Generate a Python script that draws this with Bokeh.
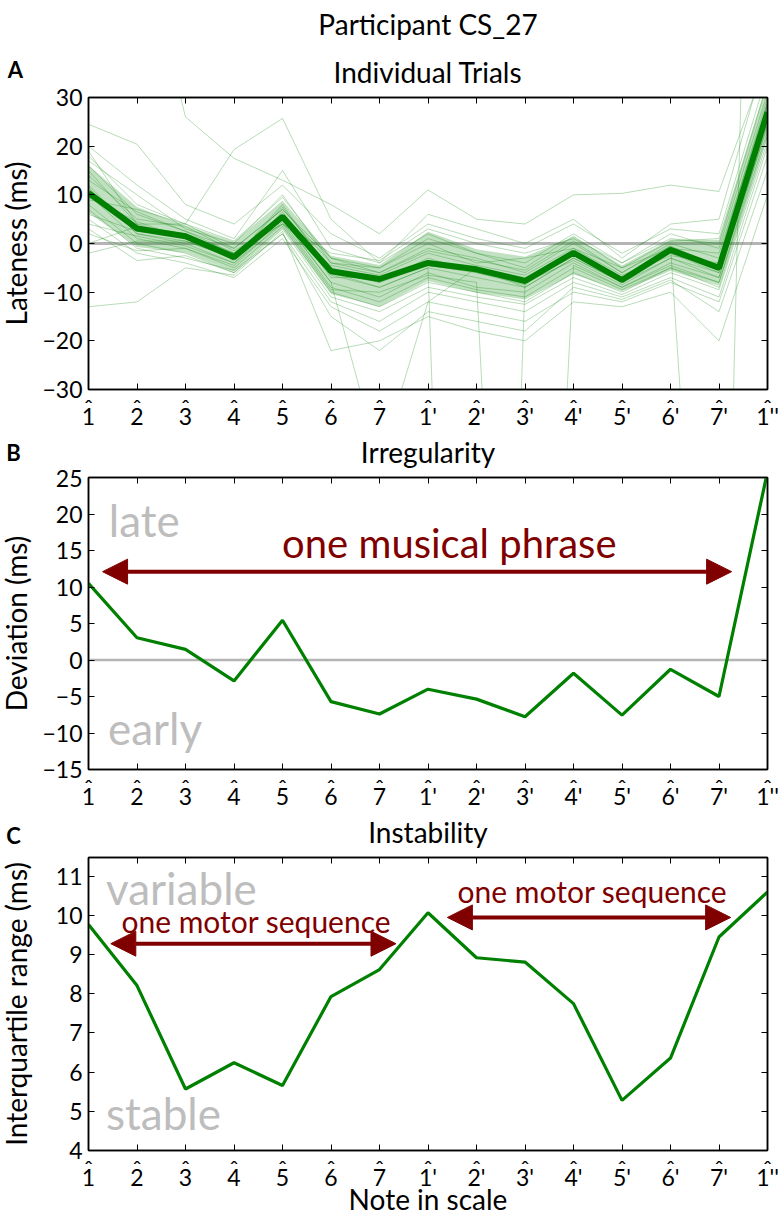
import math
from bokeh.plotting import figure
from bokeh.models import (Range1d, FixedTicker, LinearAxis, Span, Arrow, NormalHead,
                          Label, CustomJSTickFormatter)
from bokeh.layouts import column, row
from bokeh.embed import file_html
from bokeh.resources import INLINE
from bokeh.core.properties import value

# ---------------- data ----------------
notes = ["1", "2", "3", "4", "5", "6", "7", "1'", "2'", "3'", "4'", "5'", "6'", "7'", "1''"]
hat = "\u02c6"

median_lateness = [10.4, 3.1, 1.5, -2.8, 5.5, -5.7, -7.3, -4.0, -5.3, -7.7, -1.9, -7.5, -1.3, -5.0, 27.0]
lower_quartile = [6.3, -0.7, -1.9, -5.8, 3.1, -10.4, -13.0, -7.7, -10.1, -11.5, -6.3, -9.8, -5.6, -8.7, 22.0]
upper_quartile = [16.1, 7.5, 3.7, 0.4, 8.8, -2.5, -4.4, 2.4, -1.2, -2.7, 1.4, -4.5, 0.8, 0.7, 32.6]
deviation = [10.5, 3.05, 1.45, -2.86, 5.45, -5.7, -7.4, -4.0, -5.36, -7.77, -1.82, -7.55, -1.27, -5.0, 25.8]
interquartile_range = [9.77, 8.21, 5.57, 6.24, 5.66, 7.93, 8.62, 10.07, 8.92, 8.81, 7.75, 5.28, 6.36, 9.45, 10.6]

trials = [
    [24.5, 20.4, 8.0, 4.0, 12.0, 2.0, -3.0, 4.0, 1.0, -1.0, 4.0, -2.0, 3.0, 2.0, 35.0],
    [20.0, 12.0, 5.0, 1.0, 15.0, -1.0, -4.0, 2.0, -2.0, -4.0, 2.0, -4.0, 1.0, 0.0, 33.0],
    [18.0, 8.0, 4.0, -1.0, 7.0, -3.0, -6.0, -1.0, -3.0, -6.0, 0.0, -6.0, 0.0, -3.0, 30.0],
    [17.0, 10.0, 3.0, 0.0, 10.0, -4.0, -5.0, 0.0, -4.0, -3.0, -1.0, -5.0, -1.0, -2.0, 29.0],
    [16.0, 6.0, 2.5, -2.0, 6.0, -5.0, -8.0, -3.0, -6.0, -8.0, -2.0, -7.0, -2.0, -5.0, 28.0],
    [15.0, 4.0, 1.0, -3.0, 8.0, -6.0, -9.0, -5.0, -7.0, -9.0, -3.0, -8.0, -3.0, -6.0, 27.0],
    [14.0, 5.0, 3.5, -1.5, 4.0, -2.0, -3.5, 3.0, 0.0, -2.0, 1.0, -4.0, 2.0, -1.0, 31.0],
    [12.0, 2.0, 0.0, -4.0, 5.0, -8.0, -11.0, -6.0, -9.0, -10.0, -4.0, -9.0, -4.0, -7.0, 25.0],
    [11.0, 3.0, 2.0, -3.5, 6.5, -7.0, -7.0, -4.0, -5.0, -7.0, -2.5, -7.5, -1.5, -4.5, 26.0],
    [10.0, 1.0, -1.0, -5.0, 3.5, -10.0, -13.0, -8.0, -10.0, -12.0, -6.0, -10.0, -5.0, -9.0, 22.0],
    [9.0, 7.0, 4.0, 0.5, 9.5, -3.0, -5.0, 1.0, -2.0, -5.0, 1.5, -5.0, 0.5, 1.0, 33.0],
    [8.0, 0.0, -2.0, -6.0, 3.0, -11.0, -14.0, -9.0, -11.0, -12.5, -7.0, -10.5, -6.0, -9.5, 21.0],
    [7.0, -1.0, -3.0, -5.5, 2.0, -12.0, -16.0, -10.0, -12.0, -14.0, -8.0, -11.0, -7.0, -11.0, 20.0],
    [6.0, 2.5, 1.5, -2.5, 5.5, -6.0, -8.0, -4.5, -6.0, -8.5, -2.0, -8.0, -1.0, -5.5, 27.5],
    [5.0, -2.0, -4.0, -7.0, 1.0, -13.0, -18.0, -12.0, -14.0, -16.0, -10.0, -12.0, -8.0, -12.0, 18.0],
    [2.0, -1.5, -1.0, -4.5, 4.5, -9.0, -12.0, -7.0, -9.5, -11.0, -5.0, -9.5, -5.0, -8.0, 23.0],
    [0.0, 3.5, 2.0, -2.0, 4.0, -4.5, -6.5, -2.0, -4.5, -6.5, -1.0, -6.5, -2.5, -4.0, 28.5],
    [-2.0, 0.5, 0.5, -3.0, 7.5, -5.5, -7.5, -3.5, -5.5, -7.5, -1.5, -7.0, -0.5, -5.0, 26.5],
    [-13.0, -12.0, -5.0, -6.5, 2.5, -22.0, -20.0, -15.0, -18.0, -20.0, -12.0, -13.0, -10.0, -20.0, 10.0],
    [45.0, 66.0, 26.0, 17.5, 13.0, 8.0, 2.0, 11.0, 5.0, 4.0, 10.0, 10.3, 12.0, 10.7, 38.0],
    [19.0, 4.0, 4.0, 19.3, 25.7, 5.0, -4.0, 6.0, 3.0, 0.0, 5.0, -3.0, 4.0, 5.0, 40.0],
    [11.5, 2.0, 0.5, -3.0, 5.0, -8.0, -45.0, -12.0, -5.0, -9.0, -3.0, -8.0, -2.0, -6.0, 24.0],
    [9.5, 4.5, 1.0, -2.0, 6.0, -6.5, -9.0, -5.0, -300.0, -8.0, -3.5, -8.5, -3.0, -7.0, 29.0],
    [4.0, 1.5, -0.5, -4.0, 4.0, -9.5, -10.0, -6.5, -8.0, -200.0, -4.5, -9.0, -4.5, -8.0, 24.5],
    [13.0, 6.5, 2.5, -1.0, 7.0, -4.0, -6.0, -1.5, -3.5, -5.5, 0.5, -6.0, -0.5, -150.0, 250.0],
    [3.0, -3.5, -2.5, -6.0, 2.0, -15.0, -22.0, -14.0, -16.0, -18.0, -9.0, -11.5, -7.5, -14.0, 15.0],
]

yticks_a = [-30, -20, -10, 0, 10, 20, 30]
yticks_b = [-15, -10, -5, 0, 5, 10, 15, 20, 25]
yticks_c = [4, 5, 6, 7, 8, 9, 10, 11]

panel_letters = ["A", "B", "C"]
y_titles = ["Lateness (ms)", "Deviation (ms)", "Interquartile range (ms)"]
main_title = "Participant CS_27"
subtitles = ["Individual Trials", "Irregularity", "Instability"]
x_title = "Note in scale"

# ---------------- style / layout constants ----------------
FONT = "Lato"
GREEN = "#008000"
DARKRED = "#800000"
LIGHTGRAY = "#bdbdbd"
ZEROGRAY = "#b5b5b5"
x = list(range(len(notes)))
PAGE_H = 1214
STRIP_W = 38
FRAME_L, FRAME_R = 88, 767
CENTER_X = (FRAME_L + FRAME_R) / 2.0
BOT_B = 48
GLYPH_K = 0.41   # baseline correction for text glyphs (fraction of font size)
LABEL_K = 0.32   # baseline correction for Label annotations


def fmt(t):
    return str(t) if t >= 0 else "\u2212" + str(-t)


def text_box(top, bottom, texts, baselines, fs=28):
    h = figure(frame_width=FRAME_R - FRAME_L, frame_height=bottom - top,
               x_range=Range1d(FRAME_L, FRAME_R), y_range=Range1d(bottom, top),
               output_backend="svg", toolbar_location=None,
               x_axis_location=None, y_axis_location=None, min_border=0,
               min_border_left=FRAME_L - STRIP_W, min_border_right=784 - FRAME_R,
               outline_line_color=None)
    h.grid.visible = False
    h.text(x=[CENTER_X] * len(texts), y=[b - GLYPH_K * fs for b in baselines], text=texts,
           text_font=value(FONT), text_font_size=f"{fs}px", text_align="center",
           text_baseline="alphabetic", text_color="black")
    return h


def note_label(p, xv, yv, text, color, fs, align="left"):
    p.add_layout(Label(x=xv, y=yv, text=text, text_color=color, text_font=FONT,
                       text_font_size=f"{fs}px", text_align=align,
                       text_baseline="alphabetic", y_offset=round(LABEL_K * fs)))


def make_panel(y_lo, y_hi, yticks, frame_h, top_border):
    p = figure(frame_width=FRAME_R - FRAME_L, frame_height=frame_h,
               x_range=Range1d(0, 14), y_range=Range1d(y_lo, y_hi),
               output_backend="svg", toolbar_location=None,
               min_border_left=FRAME_L - STRIP_W, min_border_right=784 - FRAME_R,
               min_border_top=top_border, min_border_bottom=BOT_B)
    xa = p.below[0]
    ya = p.left[0]
    p.grid.visible = False
    p.outline_line_color = "black"
    p.outline_line_width = 1.5

    ya.ticker = FixedTicker(ticks=yticks)
    ya.major_label_overrides = {t: fmt(t) for t in yticks}
    ya.major_tick_in = 6
    ya.major_tick_out = 0
    ya.minor_tick_line_color = None
    ya.major_label_standoff = 6
    ya.major_label_text_font = FONT
    ya.major_label_text_font_size = "23px"
    ya.major_label_text_color = "black"
    ya.axis_line_width = 1.5

    ra = LinearAxis(ticker=FixedTicker(ticks=yticks),
                    formatter=CustomJSTickFormatter(code="return ''"),
                    major_tick_in=6, major_tick_out=0, minor_tick_line_color=None,
                    major_label_standoff=0, major_label_text_font_size="1px",
                    axis_line_width=1.5)
    p.add_layout(ra, "right")

    ta = LinearAxis(ticker=FixedTicker(ticks=x),
                    formatter=CustomJSTickFormatter(code="return ''"),
                    major_tick_in=6, major_tick_out=0, minor_tick_line_color=None,
                    major_label_standoff=0, major_label_text_font_size="1px",
                    axis_line_width=1.5)
    p.add_layout(ta, "above")

    # bottom axis: scale degrees with a hat above each
    xa.ticker = FixedTicker(ticks=x)
    xa.major_label_overrides = {i: hat + "\n" + notes[i] for i in x}
    xa.major_tick_in = 6
    xa.major_tick_out = 0
    xa.minor_tick_line_color = None
    xa.major_label_standoff = 4
    xa.major_label_text_font = FONT
    xa.major_label_text_font_size = "23px"
    xa.major_label_text_line_height = 0.3
    xa.major_label_text_color = "black"
    xa.axis_line_width = 1.5
    return p


# ---------------- panel A ----------------
pA = make_panel(-30, 30, yticks_a, 292, 12)
pA.add_layout(Span(location=0, dimension="width", line_color=ZEROGRAY, line_width=3,
                   level="underlay"))
for tr in trials:
    pA.line(x, tr, line_color=GREEN, line_alpha=0.28, line_width=1)
pA.varea(x=x, y1=lower_quartile, y2=upper_quartile, fill_color=GREEN, fill_alpha=0.24)
pA.line(x, median_lateness, line_color=GREEN, line_width=6)

# ---------------- panel B ----------------
pB = make_panel(-15, 25, yticks_b, 292, 8)
pB.add_layout(Span(location=0, dimension="width", line_color=ZEROGRAY, line_width=2.5,
                   level="underlay"))
pB.line(x, deviation, line_color=GREEN, line_width=3.2)
pB.add_layout(Arrow(start=NormalHead(size=25, fill_color=DARKRED, line_color=DARKRED),
                    end=NormalHead(size=25, fill_color=DARKRED, line_color=DARKRED),
                    x_start=0.29, y_start=12.1, x_end=13.26, y_end=12.1,
                    line_color=DARKRED, line_width=4))
note_label(pB, 7.44, 14.2, "one musical phrase", DARKRED, 40, align="center")
note_label(pB, 0.42, 17.3, "late", LIGHTGRAY, 44)
note_label(pB, 0.40, -11.3, "early", LIGHTGRAY, 44)

# ---------------- panel C ----------------
pC = make_panel(4, 11.48, yticks_c, 293, 6)
pC.line(x, interquartile_range, line_color=GREEN, line_width=3.2)
for xs, xe, ya_, xt, yt in [(0.46, 6.34, 9.28, 3.46, 9.61), (7.40, 13.24, 9.95, 10.39, 10.36)]:
    pC.add_layout(Arrow(start=NormalHead(size=25, fill_color=DARKRED, line_color=DARKRED),
                        end=NormalHead(size=25, fill_color=DARKRED, line_color=DARKRED),
                        x_start=xs, y_start=ya_, x_end=xe, y_end=ya_,
                        line_color=DARKRED, line_width=4))
    note_label(pC, xt, yt, "one motor sequence", DARKRED, 30, align="center")
note_label(pC, 0.36, 10.34, "variable", LIGHTGRAY, 44)
note_label(pC, 0.36, 4.59, "stable", LIGHTGRAY, 44)
xc = pC.below[0]
xc.axis_label = x_title
xc.axis_label_text_font = FONT
xc.axis_label_text_font_size = "28px"
xc.axis_label_text_font_style = "normal"
xc.axis_label_text_color = "black"
xc.axis_label_standoff = -12

# ---------------- headers (page-pixel coordinates) ----------------
hA = text_box(0, 85, [main_title, subtitles[0]], [35, 83])
hB = text_box(437, 469, [subtitles[1]], [463])
hC = text_box(817, 851, [subtitles[2]], [843])

# ---------------- left strip: panel letters and y-axis titles ----------------
strip = figure(frame_width=STRIP_W, frame_height=PAGE_H, x_range=Range1d(0, STRIP_W),
               y_range=Range1d(PAGE_H, 0), output_backend="svg", toolbar_location=None,
               x_axis_location=None, y_axis_location=None, min_border=0,
               outline_line_color=None)
strip.grid.visible = False
strip.text(x=[15, 13, 13], y=[69, 452, 835], text=panel_letters,
           text_font=value(FONT), text_font_size="22px", text_font_style="bold",
           text_align="center", text_baseline="alphabetic", text_color="black")
strip.text(x=[15, 15, 15], y=[243, 623, 1003.5], text=y_titles, angle=math.pi / 2,
           text_font=value(FONT), text_font_size="28px", text_align="center",
           text_baseline="alphabetic", text_color="black")

layout = row(strip, column(hA, pA, hB, pB, hC, pC, spacing=0), spacing=0)
open("out.html", "w").write(file_html(layout, INLINE))
